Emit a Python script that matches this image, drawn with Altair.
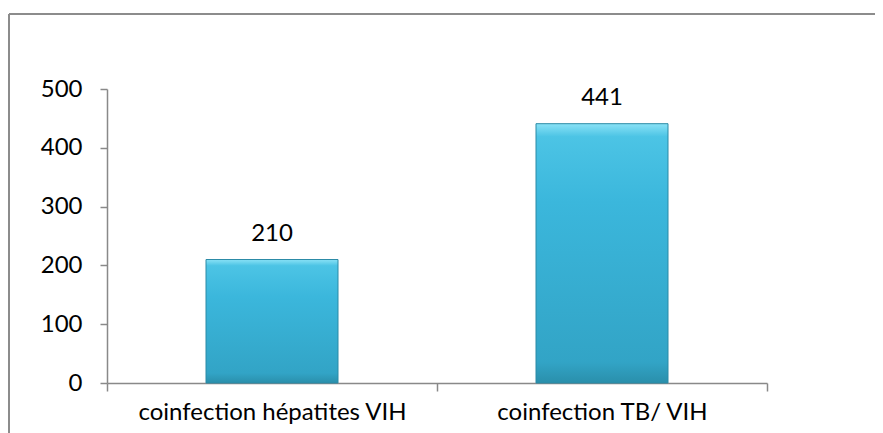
import altair as alt
import pandas as pd

categories = ["coinfection hépatites VIH", "coinfection TB/ VIH"]
values = [210, 441]
y_ticks = [0, 100, 200, 300, 400, 500]

df = pd.DataFrame({"cat": categories, "val": values})

FONT = "Lato"
AXIS_COLOR = "#898989"

x_enc = alt.X(
    "cat:N",
    sort=categories,
    title=None,
    scale=alt.Scale(paddingInner=0, paddingOuter=0),
    axis=alt.Axis(
        labelAngle=0,
        labelLimit=0,
        tickBand="extent",
        tickSize=8,
        tickWidth=1.5,
        tickColor=AXIS_COLOR,
        domainColor=AXIS_COLOR,
        domainWidth=1.5,
        labelFont=FONT,
        labelFontSize=24,
        labelColor="#000000",
        labelPadding=9,
        grid=False,
    ),
)
y_enc = alt.Y(
    "val:Q",
    title=None,
    scale=alt.Scale(domain=[0, 500], nice=False),
    axis=alt.Axis(
        values=y_ticks,
        tickSize=7,
        tickWidth=1.5,
        tickColor=AXIS_COLOR,
        domainColor=AXIS_COLOR,
        domainWidth=1.5,
        labelFont=FONT,
        labelFontSize=24,
        labelColor="#000000",
        labelPadding=18,
        grid=False,
    ),
)

top_line = alt.Chart(df).mark_rule(stroke="#8c8c8c", strokeWidth=2).encode(
    x=alt.value(-98), x2=alt.value(768), y=alt.value(-75)
)
left_line = alt.Chart(df).mark_rule(stroke="#8c8c8c", strokeWidth=2).encode(
    x=alt.value(-98), y=alt.value(-75), y2=alt.value(344)
)

bars = alt.Chart(df).mark_bar(
    width={"band": 0.4},
    stroke="#2a8aa6",
    strokeWidth=1,
    color=alt.Gradient(
        gradient="linear",
        stops=[
            alt.GradientStop(color="#8ae2f6", offset=0),
            alt.GradientStop(color="#4cc4e5", offset=0.05),
            alt.GradientStop(color="#3bb7dc", offset=0.3),
            alt.GradientStop(color="#32a4c6", offset=0.92),
            alt.GradientStop(color="#2a8fab", offset=1),
        ],
        x1=0, x2=0, y1=0, y2=1,
    ),
).encode(x=x_enc, y=y_enc)

labels = alt.Chart(df).mark_text(
    font=FONT, fontSize=24, color="#000000", baseline="alphabetic", dy=-19
).encode(x=alt.X("cat:N", sort=categories), y="val:Q", text="val:Q")

chart = alt.layer(top_line, left_line, bars, labels).properties(
    width=660,
    height=294,
    autosize=alt.AutoSizeParams(type="none"),
    padding={"left": 99, "top": 81, "right": 108, "bottom": 50},
    background="#ffffff",
).configure_view(stroke=None)

chart.save("out.html", embed_options={"renderer": "svg", "actions": False})
